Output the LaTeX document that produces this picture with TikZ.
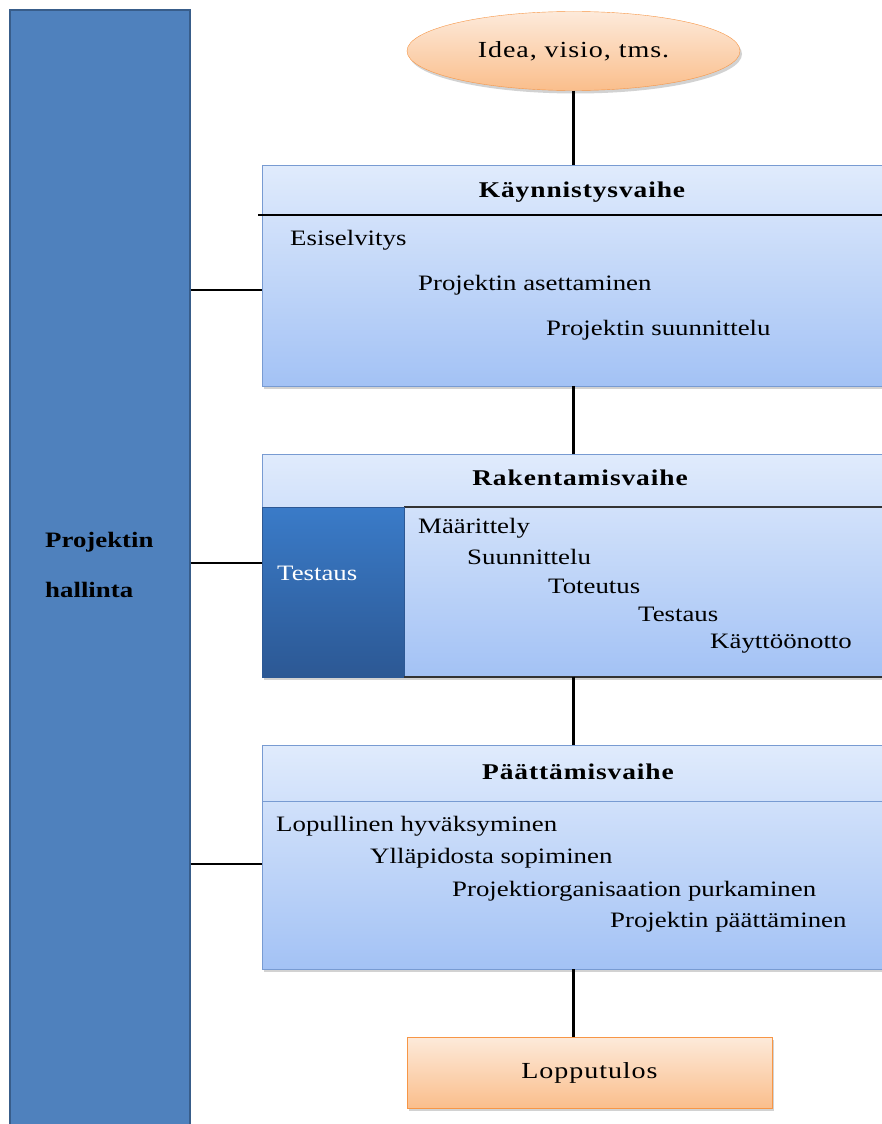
\documentclass[tikz,border=0pt]{standalone}
\usepackage{fontspec}
\setmainfont[FakeStretch=1.22]{Liberation Serif}
\newfontfamily\spacedfont[FakeStretch=1.22,LetterSpace=4]{Liberation Serif}
\usetikzlibrary{shadows,shapes.geometric}

\definecolor{barblue}{RGB}{79,129,189}
\definecolor{bardraw}{RGB}{56,93,138}
\definecolor{phasetop}{RGB}{224,235,252}
\definecolor{phasebot}{RGB}{163,194,245}
\definecolor{phasedraw}{RGB}{120,155,210}
\definecolor{testtop}{RGB}{58,123,200}
\definecolor{testbot}{RGB}{44,88,148}
\definecolor{orangetop}{RGB}{253,234,218}
\definecolor{orangebot}{RGB}{250,190,140}
\definecolor{orangedraw}{RGB}{247,150,70}

\tikzset{
  phase/.style={draw=phasedraw, top color=phasetop, bottom color=phasebot,
    minimum width=623pt, minimum height=#1, inner sep=0pt,
    drop shadow={shadow xshift=2pt, shadow yshift=-3pt, opacity=0.35}},
  result/.style={draw=orangedraw, top color=orangetop, bottom color=orangebot,
    drop shadow={shadow xshift=2pt, shadow yshift=-3pt, opacity=0.35}},
  item/.style={anchor=west, inner sep=0pt, font=\fontsize{22}{26}\selectfont},
  title/.style={inner sep=0pt, font=\spacedfont\fontsize{22.5}{26}\selectfont\bfseries},
  link/.style={line width=2.2pt}
}

\begin{document}
\begin{tikzpicture}[x=1pt,y=-1pt]
\clip (0,0) rectangle (882,1124);
\fill[white] (0,0) rectangle (882,1124);

%Shape: left bar
\node[draw=bardraw, fill=barblue, line width=1.2pt, minimum width=180pt, minimum height=1120pt, inner sep=0pt] (hallinta) at (100,570) {};
\node[anchor=west, align=left, inner sep=0pt, font=\fontsize{22}{50}\selectfont\bfseries] (hallintateksti) at (45,565) {Projektin\\hallinta};

%Shape: idea ellipse
\node[result, ellipse, minimum width=333pt, minimum height=79pt, inner sep=0pt, font=\spacedfont\fontsize{23}{26}\selectfont] (idea) at (573.5,51) {Idea, visio, tms.};

%Shape: phase 1
\node[phase=221pt] (kaynnistys) at (573.5,275.5) {};
\draw[line width=2.2pt] (258,215) -- (882,215);
\node[title] (t1) at (582,192) {Käynnistysvaihe};
\node[item] (esiselvitys) at (290,240) {Esiselvitys};
\node[item] (asettaminen) at (418,285) {Projektin asettaminen};
\node[item] (suunnittelu) at (546,330) {Projektin suunnittelu};

%Shape: phase 2
\node[phase=222pt] (rakentaminen) at (573.5,565.5) {};
\draw[line width=1.2pt, black!80] (404,507) -- (882,507);
\node[title] (t2) at (580,478) {Rakentamisvaihe};
\node[draw=testbot, top color=testtop, bottom color=testbot, minimum width=142pt, minimum height=170pt, inner sep=0pt] (testauslaatikko) at (333,592) {};
\node[item, text=white] (testaus1) at (277,573) {Testaus};
\node[item] (maarittely) at (418,528) {Määrittely};
\node[item] (suunnittelu2) at (467,557) {Suunnittelu};
\node[item] (toteutus) at (548,586) {Toteutus};
\node[item] (testaus2) at (638,614) {Testaus};
\node[item] (kayttoonotto) at (710,644) {Käyttöönotto};
\draw[line width=1.2pt, black!80] (404,677) -- (882,677);

%Shape: phase 3
\node[phase=224pt] (paattaminen) at (573.5,857) {};
\draw[line width=1pt, phasedraw] (262,801) -- (882,801);
\node[title] (t3) at (578,772) {Päättämisvaihe};
\node[item] (hyvaksyminen) at (276,826) {Lopullinen\ hyväksyminen};
\node[item] (sopiminen) at (370,858) {Ylläpidosta\ sopiminen};
\node[item] (purkaminen) at (452,891) {Projektiorganisaation\ purkaminen};
\node[item] (paattaminen2) at (610,922) {Projektin päättäminen};

%Shape: result box
\node[result, minimum width=365pt, minimum height=71pt, inner sep=0pt, font=\spacedfont\fontsize{23}{26}\selectfont] (lopputulos) at (589.5,1072.5) {Lopputulos};

%Straight Lines
\draw[link] (idea.south) -- (kaynnistys.north);
\draw[link] (kaynnistys.south) -- (rakentaminen.north);
\draw[link] (rakentaminen.south) -- (paattaminen.north);
\draw[link] (paattaminen.south) -- (lopputulos.north -| paattaminen.south);
\draw[link] (hallinta.east |- 0,290) -- (kaynnistys.west |- 0,290);
\draw[link] (hallinta.east |- 0,563) -- (rakentaminen.west |- 0,563);
\draw[link] (hallinta.east |- 0,864) -- (paattaminen.west |- 0,864);

\end{tikzpicture}
\end{document}
